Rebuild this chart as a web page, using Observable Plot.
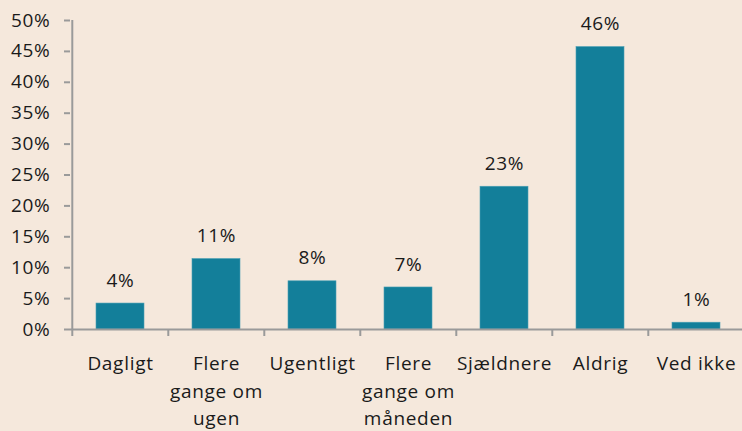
<!DOCTYPE html>
<html>
<head>
<meta charset="utf-8">
<script src="https://cdn.jsdelivr.net/npm/d3@7"></script>
<script src="https://cdn.jsdelivr.net/npm/@observablehq/plot@0.6"></script>
<style>
  html, body { margin: 0; padding: 0; background: #F5E8DC; }
  #chart svg { display: block; }
</style>
</head>
<body>
<div id="chart"></div>
<script>
const categories = ["Dagligt", "Flere\ngange om\nugen", "Ugentligt", "Flere\ngange om\nmåneden", "Sjældnere", "Aldrig", "Ved ikke"];
const values = [4.2, 11.4, 7.8, 6.8, 23.1, 45.7, 1.1];
const valueLabels = ["4%", "11%", "8%", "7%", "23%", "46%", "1%"];
const yTicks = [0, 5, 10, 15, 20, 25, 30, 35, 40, 45, 50];

const data = categories.map((c, i) => ({cat: c, value: values[i], label: valueLabels[i]}));

const W = 742, H = 431;
const left = 70, right = 745;
const step = (right - left) / categories.length;
const axisColor = "#9a9a9a";
const font = "'Open Sans', sans-serif";
const fs = 19;

const chart = Plot.plot({
  width: W,
  height: H,
  marginLeft: left,
  marginRight: 0,
  marginTop: 20,
  marginBottom: 102,
  style: {background: "#F5E8DC", fontFamily: font, fontSize: fs + "px", color: "#1a1a1a", letterSpacing: "0.7px"},
  x: {domain: categories, range: [left, right], paddingInner: 0.5, paddingOuter: 0.25},
  y: {domain: [0, 50], ticks: yTicks},
  marks: [
    Plot.barY(data, {x: "cat", y: "value", fill: "#137F9A", stroke: "#4a9fb4", strokeWidth: 0.6}),
    Plot.ruleY([0], {stroke: axisColor, strokeWidth: 2}),
    Plot.axisY({ticks: yTicks, tickFormat: d => d + "%", tickSize: 6, tickPadding: 14, stroke: axisColor, strokeWidth: 2, fill: "#1a1a1a", fontSize: fs, label: null}),
    Plot.ruleX([0], {x: () => categories[0], y1: 0, y2: 50, dx: -step / 2, stroke: axisColor, strokeWidth: 2}),
    Plot.axisX({tickSize: 7, tickFormat: () => "", dx: -step / 2, stroke: axisColor, strokeWidth: 2, label: null}),
    Plot.axisX({tickSize: 0, tickPadding: 21, lineHeight: 1.45, fill: "#1a1a1a", fontSize: fs, label: null}),
    Plot.text(data, {x: "cat", y: "value", text: "label", dy: -23, fill: "#1a1a1a", fontSize: fs})
  ]
});
document.getElementById("chart").appendChild(chart);
</script>
</body>
</html>
